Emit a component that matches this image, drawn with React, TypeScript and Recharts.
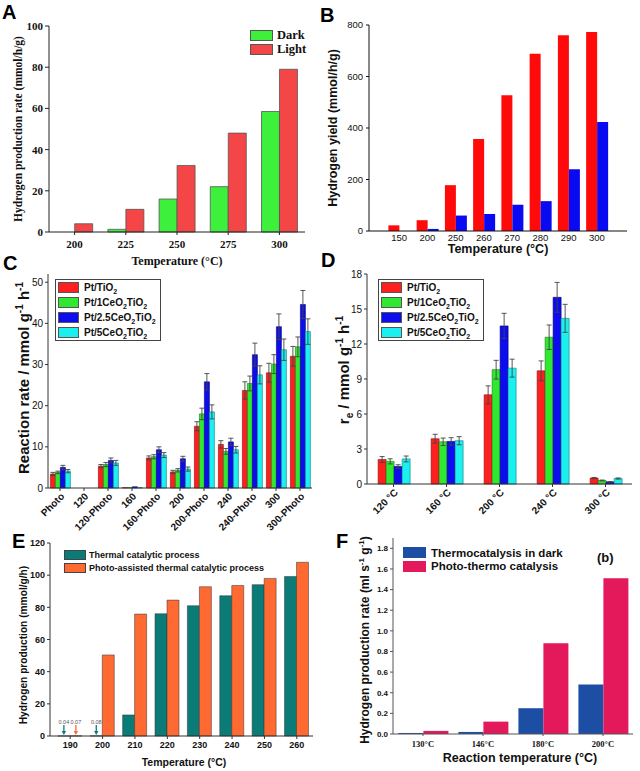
import React from "react";
import { Bar, BarChart, ErrorBar, LabelList, Legend, XAxis, YAxis } from "recharts";

const SANS = "'Liberation Sans', Arial, Helvetica, sans-serif";
const SERIF = "'Liberation Serif', 'Times New Roman', serif";

// A: dark vs light
const aTemps = ["200", "225", "250", "275", "300"];
const aDark = [0, 1.3, 16, 22, 58.5];
const aLight = [4, 11, 32.3, 48, 79];
const aTicks = [0, 20, 40, 60, 80, 100];

// B: hydrogen yield
const bTemps = ["150", "200", "250", "260", "270", "280", "290", "300"];
const bRed = [22, 42, 178, 357, 527, 688, 760, 773];
const bBlue = [0, 8, 60, 66, 102, 116, 240, 423];
const bTicks = [0, 200, 400, 600, 800];

// C: reaction rate per catalyst
const cCats = ["Photo", "120", "120-Photo", "160", "160-Photo", "200", "200-Photo", "240", "240-Photo", "300", "300-Photo"];
const catNames = ["Pt/TiO2", "Pt/1CeO2TiO2", "Pt/2.5CeO2TiO2", "Pt/5CeO2TiO2"];
const cTi = [3.4, 0, 5.3, 0.1, 7.3, 3.9, 15.0, 10.6, 23.7, 28.0, 32.0];
const cCe1 = [3.8, 0, 5.7, 0.1, 7.6, 4.3, 18.0, 8.9, 25.4, 30.1, 34.3];
const cCe25 = [5.0, 0, 6.7, 0.3, 9.3, 7.1, 25.8, 11.2, 32.4, 39.2, 44.6];
const cCe5 = [4.1, 0, 6.1, 0.1, 8.0, 4.6, 18.5, 9.3, 27.5, 33.6, 38.0];
const cTiErr = [0.4, 0, 0.4, 0, 0.5, 0.4, 1.1, 0.9, 2.1, 2.3, 2.4];
const cCe1Err = [0.3, 0, 0.5, 0, 0.5, 0.4, 1.4, 0.7, 1.8, 2.3, 2.4];
const cCe25Err = [0.5, 0, 0.6, 0, 0.7, 0.6, 2.0, 0.9, 2.8, 3.1, 3.4];
const cCe5Err = [0.4, 0, 0.6, 0, 0.6, 0.5, 1.7, 0.8, 2.2, 2.6, 3.1];
const cTicks = [0, 10, 20, 30, 40, 50];

// D: r_e per catalyst
const dCats = ["120 °C", "160 °C", "200 °C", "240 °C", "300 °C"];
const dTi = [2.1, 3.88, 7.64, 9.7, 0.51];
const dCe1 = [1.94, 3.62, 9.8, 12.58, 0.3];
const dCe25 = [1.5, 3.65, 13.55, 16.0, 0.18];
const dCe5 = [2.15, 3.71, 9.93, 14.2, 0.47];
const dTiErr = [0.25, 0.38, 0.77, 0.85, 0.05];
const dCe1Err = [0.22, 0.32, 0.8, 1.05, 0.04];
const dCe25Err = [0.15, 0.32, 1.08, 1.28, 0.03];
const dCe5Err = [0.25, 0.35, 0.77, 1.2, 0.05];
const dTicks = [0, 3, 6, 9, 12, 15, 18];

// E: thermal vs photo-assisted
const eTemps = ["190", "200", "210", "220", "230", "240", "250", "260"];
const eThermal = [0.04, 0.08, 13.1, 76.0, 81.0, 87.2, 94.1, 99.2];
const ePhoto = [0.07, 50.4, 75.8, 84.5, 92.8, 93.6, 98.0, 108];
const eTicks = [0, 20, 40, 60, 80, 100, 120];

// F: thermocatalysis vs photo-thermo
const fTemps = ["130°C", "146°C", "180°C", "200°C"];
const fDark = [0.01, 0.02, 0.25, 0.48];
const fPhoto = [0.03, 0.12, 0.88, 1.51];
const fTicks = [0, 0.2, 0.4, 0.6, 0.8, 1.0, 1.2, 1.4, 1.6, 1.8];

const CAT_COLORS = ["#FF1F1F", "#30E830", "#0C0CEE", "#1CEFEF"];
const CAT_STROKES = ["#8a1010", "#1a7a1a", "#00007a", "#108080"];

function chem(s: string) {
  const parts = s.split("O2");
  return parts.map((p, i) => (
    <React.Fragment key={i}>
      {p}
      {i < parts.length - 1 ? (
        <>
          O<sub style={{ fontSize: "0.7em", lineHeight: 0 }}>2</sub>
        </>
      ) : null}
    </React.Fragment>
  ));
}

type Item = { label: React.ReactNode; color: string };

function SwatchLegend(props: {
  items: Item[];
  font: string;
  size: number;
  sw: number;
  sh: number;
  row: number;
  gap: number;
  border?: string;
  box?: boolean;
}) {
  const { items, font, size, sw, sh, row, gap, border, box } = props;
  return (
    <div
      style={{
        fontFamily: font,
        fontSize: size,
        fontWeight: "bold",
        color: "#111",
        background: box ? "#fff" : "transparent",
        border: box ? "1px solid #444" : "none",
        padding: box ? "0 4px 0 2px" : 0,
      }}
    >
      {items.map((it, i) => (
        <div key={i} style={{ display: "flex", alignItems: "center", height: row, whiteSpace: "nowrap" }}>
          <span
            style={{
              display: "inline-block",
              width: sw,
              height: sh,
              background: it.color,
              border: border ?? "none",
              boxSizing: "border-box",
              marginRight: gap,
              flex: "none",
            }}
          />
          <span>{it.label}</span>
        </div>
      ))}
    </div>
  );
}

function frame(key: string, stroke: string) {
  return [
    <XAxis key="fx" xAxisId="top" orientation="top" dataKey={key} height={0} tick={false} tickLine={false} axisLine={{ stroke }} />,
    <YAxis key="fy" yAxisId="right" orientation="right" width={0} domain={[0, 1]} tick={false} tickLine={false} axisLine={{ stroke }} />,
  ];
}

function PanelA() {
  const data = aTemps.map((t, i) => ({ t, dark: aDark[i], light: aLight[i] }));
  const tick = { fill: "#111", fontSize: 11, fontFamily: SERIF, fontWeight: "bold" };
  return (
    <BarChart width={320} height={262} data={data} margin={{ top: 26, right: 15, bottom: 10, left: 19 }} barGap={0} barCategoryGap="15%">
      <XAxis dataKey="t" height={20} interval={0} tick={tick} tickSize={3} tickMargin={5} axisLine={{ stroke: "#222" }} tickLine={{ stroke: "#222" }} />
      <YAxis width={30} domain={[0, 100]} ticks={aTicks} interval={0} tick={tick} tickSize={4} tickMargin={2} axisLine={{ stroke: "#222" }} tickLine={{ stroke: "#222" }} />
      {frame("t", "#222")}
      <Legend
        layout="vertical"
        align="center"
        verticalAlign="middle"
        wrapperStyle={{ left: 250, top: 28, width: "auto", height: "auto" }}
        content={() => (
          <SwatchLegend
            items={[
              { label: "Dark", color: "#3CF03C" },
              { label: "Light", color: "#F44646" },
            ]}
            font={SERIF}
            size={12.5}
            sw={23}
            sh={11}
            row={14}
            gap={4}
            border="1px solid #555"
          />
        )}
      />
      <Bar dataKey="dark" name="Dark" fill="#3CF03C" stroke="#555" strokeWidth={0.8} isAnimationActive={false} />
      <Bar dataKey="light" name="Light" fill="#F44646" stroke="#555" strokeWidth={0.8} isAnimationActive={false} />
    </BarChart>
  );
}

function PanelB() {
  const data = bTemps.map((t, i) => ({ t, red: bRed[i], blue: bBlue[i] }));
  const tick = { fill: "#111", fontSize: 9.5, fontFamily: SANS };
  return (
    <BarChart width={320} height={262} data={data} margin={{ top: 25, right: 13, bottom: 15, left: 14 }} barGap={0} barCategoryGap="12%">
      <XAxis dataKey="t" height={16} interval={0} padding={{ left: 16, right: 16 }} tick={tick} tickSize={0} tickMargin={3} tickLine={false} axisLine={{ stroke: "#111", strokeWidth: 1.2 }} />
      <YAxis width={35} domain={[0, 800]} ticks={bTicks} interval={0} tick={tick} tickSize={3} tickMargin={3} axisLine={{ stroke: "#111" }} tickLine={{ stroke: "#111" }} />
      {frame("t", "#111")}
      <Bar dataKey="red" fill="#FF0A0A" isAnimationActive={false} />
      <Bar dataKey="blue" fill="#0A0AF2" isAnimationActive={false} />
    </BarChart>
  );
}

function CatalystPanel(props: {
  cats: string[];
  vals: number[][];
  errs: number[][];
  domain: [number, number];
  ticks: number[];
  height: number;
  margin: { top: number; right: number; bottom: number; left: number };
  yWidth: number;
  xHeight: number;
  gap: string;
  legendLeft: number;
}) {
  const { cats, vals, errs, domain, ticks, height, margin, yWidth, xHeight, gap, legendLeft } = props;
  const data = cats.map((c, i) => {
    const row: Record<string, number | string> = { c };
    vals.forEach((v, s) => {
      row["s" + s] = v[i];
      row["e" + s] = errs[s][i];
    });
    return row;
  });
  const yTick = { fill: "#111", fontSize: 10, fontFamily: SANS };
  const xTick = { fill: "#111", fontSize: 10, fontFamily: SANS, fontWeight: "bold", angle: -45, textAnchor: "end" };
  return (
    <BarChart width={320} height={height} data={data} margin={margin} barGap={0} barCategoryGap={gap}>
      <XAxis dataKey="c" height={xHeight} interval={0} tick={xTick} tickSize={3} tickMargin={1} axisLine={{ stroke: "#333" }} tickLine={{ stroke: "#333" }} />
      <YAxis width={yWidth} domain={domain} ticks={ticks} interval={0} tick={yTick} tickSize={3} tickMargin={2} axisLine={{ stroke: "#333" }} tickLine={{ stroke: "#333" }} />
      {frame("c", "#333")}
      <Legend
        layout="vertical"
        align="center"
        verticalAlign="middle"
        wrapperStyle={{ left: legendLeft, top: 17, width: "auto", height: "auto" }}
        content={() => (
          <SwatchLegend
            items={catNames.map((n, i) => ({ label: chem(n), color: CAT_COLORS[i] }))}
            font={SANS}
            size={10}
            sw={21}
            sh={11}
            row={15}
            gap={5}
            border="1px solid #555"
            box
          />
        )}
      />
      {vals.map((_, s) => (
        <Bar key={s} dataKey={"s" + s} fill={CAT_COLORS[s]} stroke={CAT_STROKES[s]} strokeWidth={0.6} isAnimationActive={false}>
          <ErrorBar dataKey={"e" + s} direction="y" width={2.5} stroke="#444" strokeWidth={0.9} />
        </Bar>
      ))}
    </BarChart>
  );
}

function noteLabel(color: string) {
  return (p: any) => {
    const v = Number(p.value);
    if (!(v > 0 && v < 1)) return null;
    const cx = Number(p.x) + Number(p.width) / 2;
    const base = Number(p.y) + Number(p.height);
    return (
      <g>
        <line x1={cx} y1={base - 11} x2={cx} y2={base - 4} stroke={color} strokeWidth={1.3} />
        <polygon points={`${cx - 2.2},${base - 5} ${cx + 2.2},${base - 5} ${cx},${base - 1}`} fill={color} />
        <text x={cx} y={base - 12.5} textAnchor="middle" fontSize={5.5} fontFamily={SANS} fill="#555">
          {v.toFixed(2)}
        </text>
      </g>
    );
  };
}

function PanelE() {
  const data = eTemps.map((t, i) => ({ t, th: eThermal[i], ph: ePhoto[i] }));
  const tick = { fill: "#111", fontSize: 9, fontFamily: SANS, fontWeight: "bold" };
  return (
    <BarChart width={320} height={249} data={data} margin={{ top: 21, right: 7, bottom: 21, left: 22 }} barGap={0} barCategoryGap="12%">
      <XAxis dataKey="t" height={14} interval={0} padding={{ left: 4, right: 0 }} tick={tick} tickSize={3} tickMargin={3} axisLine={{ stroke: "#333" }} tickLine={{ stroke: "#333" }} />
      <YAxis width={28} domain={[0, 120]} ticks={eTicks} interval={0} tick={tick} tickSize={3} tickMargin={2} axisLine={{ stroke: "#333" }} tickLine={{ stroke: "#333" }} />
      {frame("t", "#333")}
      <Legend
        layout="vertical"
        align="center"
        verticalAlign="middle"
        wrapperStyle={{ left: 64, top: 27, width: "auto", height: "auto" }}
        content={() => (
          <SwatchLegend
            items={[
              { label: "Thermal catalytic process", color: "#0B7B77" },
              { label: "Photo-assisted thermal catalytic process", color: "#FF6A33" },
            ]}
            font={SANS}
            size={9}
            sw={22}
            sh={10}
            row={12.5}
            gap={3}
            border="1px solid #444"
          />
        )}
      />
      <Bar dataKey="th" fill="#0B7B77" stroke="#333" strokeWidth={0.5} isAnimationActive={false}>
        <LabelList dataKey="th" content={noteLabel("#0B7B77")} />
      </Bar>
      <Bar dataKey="ph" fill="#FF6A33" stroke="#333" strokeWidth={0.5} isAnimationActive={false}>
        <LabelList dataKey="ph" content={noteLabel("#FF6A33")} />
      </Bar>
    </BarChart>
  );
}

function PanelF() {
  const data = fTemps.map((t, i) => ({ t, dark: fDark[i], photo: fPhoto[i] }));
  const xTick = { fill: "#111", fontSize: 8.5, fontFamily: SERIF, fontWeight: "bold" };
  const yTick = { fill: "#111", fontSize: 8, fontFamily: SANS, fontWeight: "bold" };
  return (
    <BarChart width={320} height={249} data={data} margin={{ top: 16, right: 7, bottom: 21, left: 48 }} barGap={0} barCategoryGap="9%">
      <XAxis dataKey="t" height={16} interval={0} tick={xTick} tickSize={2} tickMargin={5} axisLine={{ stroke: "#555" }} tickLine={{ stroke: "#555" }} />
      <YAxis
        width={25}
        domain={[0, 1.9]}
        ticks={fTicks}
        interval={0}
        tick={yTick}
        tickFormatter={(v: number) => Number(v).toFixed(1)}
        tickSize={3}
        tickMargin={2}
        axisLine={{ stroke: "#555" }}
        tickLine={{ stroke: "#555" }}
      />
      {frame("t", "#555")}
      <Legend
        layout="vertical"
        align="center"
        verticalAlign="middle"
        wrapperStyle={{ left: 83, top: 24, width: "auto", height: "auto" }}
        content={() => (
          <SwatchLegend
            items={[
              { label: "Thermocatalysis in dark", color: "#1C4FA3" },
              { label: "Photo-thermo catalysis", color: "#E3195C" },
            ]}
            font={SANS}
            size={11.5}
            sw={23}
            sh={11}
            row={13.5}
            gap={5}
          />
        )}
      />
      <Bar dataKey="dark" name="Thermocatalysis in dark" fill="#1C4FA3" isAnimationActive={false} />
      <Bar dataKey="photo" name="Photo-thermo catalysis" fill="#E3195C" isAnimationActive={false} />
    </BarChart>
  );
}

function Overlay() {
  return (
    <svg width={640} height={771} style={{ position: "absolute", left: 0, top: 0, pointerEvents: "none" }}>
      <g fontFamily={SANS} fontWeight="bold" fontSize={20} fill="#000">
        <text x={2} y={19}>A</text>
        <text x={320} y={22}>B</text>
        <text x={3} y={270}>C</text>
        <text x={321} y={267}>D</text>
        <text x={12} y={548}>E</text>
        <text x={336} y={548}>F</text>
      </g>
      <text transform="translate(22,129) rotate(-90)" textAnchor="middle" fontFamily={SERIF} fontWeight="bold" fontSize={11.5} fill="#111">
        Hydrogen production rate (mmol/h/g)
      </text>
      <text x={177} y={265} textAnchor="middle" fontFamily={SERIF} fontWeight="bold" fontSize={12} fill="#111">
        Temperature (°C)
      </text>
      <text transform="translate(337,128) rotate(-90)" textAnchor="middle" fontFamily={SANS} fontWeight="bold" fontSize={12.5} fill="#111">
        Hydrogen yield (mmol/h/g)
      </text>
      <text x={498} y={253} textAnchor="middle" fontFamily={SANS} fontWeight="bold" fontSize={12.5} fill="#111">
        Temperature (°C)
      </text>
      <text transform="translate(29,378) rotate(-90)" textAnchor="middle" fontFamily={SANS} fontWeight="bold" fontSize={15} fill="#111">
        Reaction rate / mmol g
        <tspan dy={-6} fontSize={10}>-1</tspan>
        <tspan dy={6}> h</tspan>
        <tspan dy={-6} fontSize={10}>-1</tspan>
      </text>
      <text transform="translate(349,370) rotate(-90)" textAnchor="middle" fontFamily={SANS} fontWeight="bold" fontSize={15} fill="#111">
        r<tspan dy={4} fontSize={10}>e</tspan>
        <tspan dy={-4}> / mmol g</tspan>
        <tspan dy={-6} fontSize={10}>-1</tspan>
        <tspan dy={6}> h</tspan>
        <tspan dy={-6} fontSize={10}>-1</tspan>
      </text>
      <text transform="translate(27,645) rotate(-90)" textAnchor="middle" fontFamily={SANS} fontWeight="bold" fontSize={10.2} fill="#111">
        Hydrogen production (mmol/g/h)
      </text>
      <text x={184} y={766} textAnchor="middle" fontFamily={SANS} fontWeight="bold" fontSize={10.5} fill="#111">
        Temperature (°C)
      </text>
      <text transform="translate(369,640) rotate(-90)" textAnchor="middle" fontFamily={SANS} fontWeight="bold" fontSize={12} fill="#111">
        Hydrogen production rate (ml s
        <tspan dy={-5} fontSize={8}>-1</tspan>
        <tspan dy={5}> g</tspan>
        <tspan dy={-5} fontSize={8}>-1</tspan>
        <tspan dy={5}>)</tspan>
      </text>
      <text x={520} y={762} textAnchor="middle" fontFamily={SANS} fontWeight="bold" fontSize={12.5} fill="#111">
        Reaction temperature (°C)
      </text>
      <text x={597} y={562} fontFamily={SANS} fontWeight="bold" fontSize={13} fill="#111">
        (b)
      </text>
    </svg>
  );
}

const place = (left: number, top: number): React.CSSProperties => ({ position: "absolute", left, top });

export default function App() {
  return (
    <div style={{ position: "absolute", left: 0, top: 0, width: 640, height: 771, background: "#fff", overflow: "hidden" }}>
      <div style={place(0, 0)}>
        <PanelA />
      </div>
      <div style={place(320, 0)}>
        <PanelB />
      </div>
      <div style={place(0, 262)}>
        <CatalystPanel
          cats={cCats}
          vals={[cTi, cCe1, cCe25, cCe5]}
          errs={[cTiErr, cCe1Err, cCe25Err, cCe5Err]}
          domain={[0, 52]}
          ticks={cTicks}
          height={280}
          margin={{ top: 12, right: 8, bottom: 0, left: 18 }}
          yWidth={30}
          xHeight={54}
          gap="10%"
          legendLeft={55}
        />
      </div>
      <div style={place(320, 262)}>
        <CatalystPanel
          cats={dCats}
          vals={[dTi, dCe1, dCe25, dCe5]}
          errs={[dTiErr, dCe1Err, dCe25Err, dCe5Err]}
          domain={[0, 18]}
          ticks={dTicks}
          height={280}
          margin={{ top: 12, right: 8, bottom: 0, left: 17 }}
          yWidth={30}
          xHeight={58}
          gap="21%"
          legendLeft={58}
        />
      </div>
      <div style={place(0, 522)}>
        <PanelE />
      </div>
      <div style={place(320, 522)}>
        <PanelF />
      </div>
      <Overlay />
    </div>
  );
}
